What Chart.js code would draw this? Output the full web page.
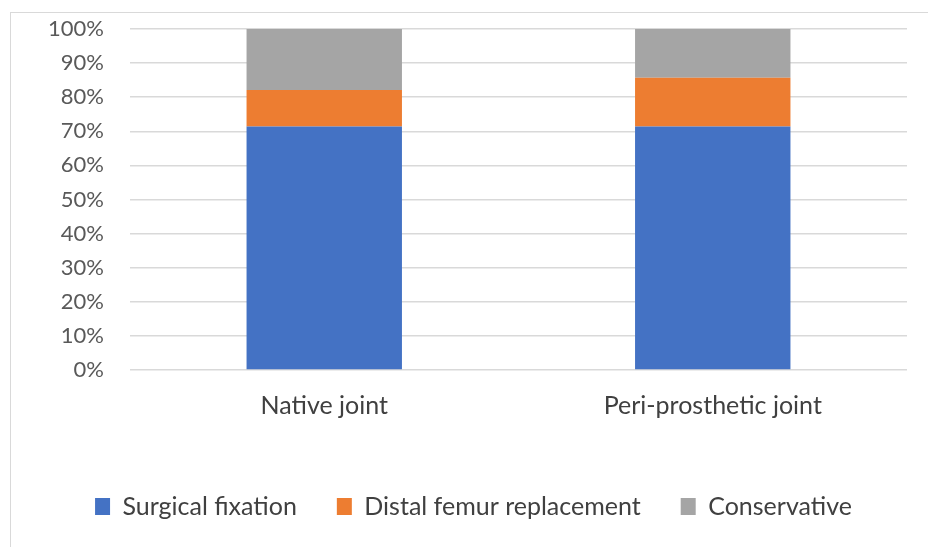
<!DOCTYPE html>
<html>
<head>
<meta charset="utf-8">
<script src="https://cdn.jsdelivr.net/npm/chart.js@4.4.1/dist/chart.umd.min.js"></script>
<style>
  body { margin: 0; background: #fff; }
  #frame {
    position: absolute; left: 10px; top: 12px; width: 930px; height: 545px;
    border: 1px solid #d9d9d9; box-sizing: border-box;
  }
  #wrap { position: absolute; left: 0; top: 0; width: 928px; height: 547px; }
</style>
</head>
<body>
<div id="frame"></div>
<div id="wrap"><canvas id="chart" width="928" height="547"></canvas></div>
<script>
const categories = ['Native joint', 'Peri-prosthetic joint'];
const surgicalFixation = [71.4, 71.4];
const distalFemurReplacement = [10.7, 14.3];
const conservative = [17.9, 14.3];

document.addEventListener('DOMContentLoaded', function () {

    Chart.defaults.font.family = 'Lato, "Open Sans", sans-serif';
    Chart.defaults.color = '#595959';

    const barStyle = { barPercentage: 0.4, categoryPercentage: 1.0, borderWidth: 0 };

    const data = {
        labels: categories,
        datasets: [
            Object.assign({ label: 'Surgical fixation', data: surgicalFixation, backgroundColor: '#4472C4' }, barStyle),
            Object.assign({ label: 'Distal femur replacement', data: distalFemurReplacement, backgroundColor: '#ED7D31' }, barStyle),
            Object.assign({ label: 'Conservative', data: conservative, backgroundColor: '#A5A5A5' }, barStyle)
        ]
    };

    const config = {
        type: 'bar',
        data: data,
        options: {
            responsive: false,
            animation: false,
            layout: { padding: { top: 29, right: 21, bottom: 18, left: 40 } },
            plugins: {
                tooltip: { enabled: false },
                legend: {
                    position: 'bottom',
                    labels: {
                        boxWidth: 15,
                        boxHeight: 17,
                        padding: 40,
                        font: { size: 25 },
                        color: '#404040'
                    }
                }
            },
            scales: {
                x: {
                    stacked: true,
                    grid: { display: false },
                    border: { display: false },
                    ticks: { padding: 13, font: { size: 25 }, color: '#404040' },
                    afterFit: function (scale) { scale.height = 84; }
                },
                y: {
                    stacked: true,
                    min: 0,
                    max: 100,
                    grid: { color: '#d9d9d9', lineWidth: 1.5, drawTicks: false },
                    border: { display: false },
                    ticks: {
                        stepSize: 10,
                        padding: 26,
                        font: { size: 22 },
                        color: '#595959',
                        callback: v => v + '%'
                    },
                    afterFit: function (scale) {
                        scale.width = 90;
                        scale.paddingTop = 0; // tick padding otherwise pushes the top down
                    }
                }
            }
        }
    };

    new Chart(document.getElementById('chart'), config);

}, false);
</script>
</body>
</html>
